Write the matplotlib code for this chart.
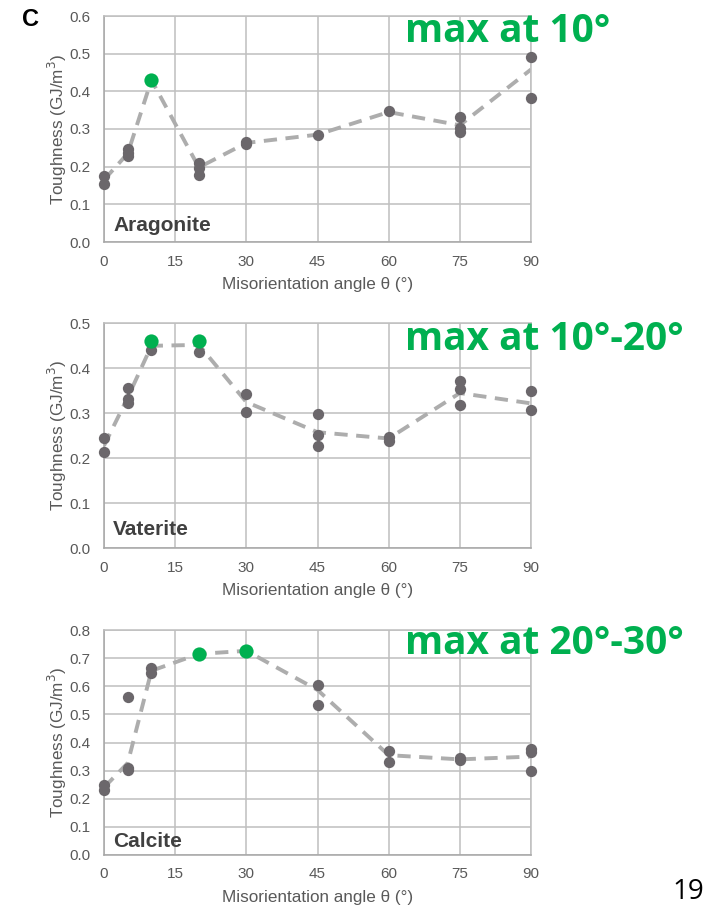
import matplotlib
matplotlib.use("Agg")
import matplotlib.pyplot as plt

plt.rcParams['font.family'] = ['Liberation Sans', 'DejaVu Sans']

angles = [0, 5, 10, 20, 30, 45, 60, 75, 90]
x_ticks = [0, 15, 30, 45, 60, 75, 90]

# Aragonite
arag_pts = [[0.175, 0.155], [0.247, 0.236, 0.227], [], [0.211, 0.196, 0.178],
            [0.265, 0.26], [0.285], [0.347], [0.331, 0.303, 0.292], [0.492, 0.381]]
arag_trend = [0.165, 0.235, 0.43, 0.198, 0.263, 0.285, 0.345, 0.31, 0.458]
arag_max_x = [10]
arag_max_y = [0.43]

# Vaterite
vat_pts = [[0.244, 0.213], [0.357, 0.331, 0.322], [0.441], [0.436],
           [0.343, 0.303], [0.298, 0.252, 0.227], [0.248, 0.239],
           [0.372, 0.354, 0.318], [0.350, 0.307]]
vat_trend = [0.228, 0.335, 0.45, 0.452, 0.325, 0.258, 0.244, 0.345, 0.322]
vat_max_x = [10, 20]
vat_max_y = [0.461, 0.461]

# Calcite
cal_pts = [[0.249, 0.231], [0.563, 0.308, 0.302], [0.664, 0.648], [], [],
           [0.603, 0.533], [0.371, 0.332], [0.344, 0.338], [0.376, 0.367, 0.299]]
cal_trend = [0.24, 0.327, 0.655, 0.715, 0.726, 0.587, 0.355, 0.34, 0.35]
cal_max_x = [20, 30]
cal_max_y = [0.715, 0.726]

panels = [
    dict(name="Aragonite", pts=arag_pts, trend=arag_trend, mx=arag_max_x, my=arag_max_y,
         ymax=0.6, ystep=0.1, note="max at 10°", top=16, bottom=242, note_y=31),
    dict(name="Vaterite", pts=vat_pts, trend=vat_trend, mx=vat_max_x, my=vat_max_y,
         ymax=0.5, ystep=0.1, note="max at 10°-20°", top=323.3, bottom=548.3, note_y=339),
    dict(name="Calcite", pts=cal_pts, trend=cal_trend, mx=cal_max_x, my=cal_max_y,
         ymax=0.8, ystep=0.1, note="max at 20°-30°", top=630, bottom=855, note_y=644),
]

W, H = 721, 911
fig = plt.figure(figsize=(W / 100, H / 100), dpi=100)

grid_c = '#BFBFBF'
text_c = '#595959'
pt_c = '#6B676B'
green = '#00B050'

for p in panels:
    left, right = 104, 531
    ax = fig.add_axes([left / W, (H - p['bottom']) / H, (right - left) / W,
                       (p['bottom'] - p['top']) / H])
    ax.set_xlim(0, 90)
    ax.set_ylim(0, p['ymax'])
    n = int(round(p['ymax'] / p['ystep']))
    yt = [i * p['ystep'] for i in range(n + 1)]
    ax.set_yticks(yt)
    ax.set_yticklabels([f"{v:.1f}" for v in yt])
    ax.set_xticks(x_ticks)
    ax.grid(True, color=grid_c, linewidth=1.1)
    ax.set_axisbelow(True)
    for s in ax.spines.values():
        s.set_color(grid_c)
        s.set_linewidth(1.1)
    ax.spines['left'].set_color('#A6A6A6')
    ax.spines['bottom'].set_color('#A6A6A6')
    ax.tick_params(length=0, labelsize=11, colors=text_c)
    ax.tick_params(axis='x', pad=9)
    ax.tick_params(axis='y', pad=10)
    ax.plot(angles, p['trend'], color='#ADADAD', linewidth=2.8,
            dashes=(3.4, 2.2), zorder=2, solid_capstyle='butt')
    xs, ys = [], []
    for a, vals in zip(angles, p['pts']):
        for v in vals:
            xs.append(a)
            ys.append(v)
    ax.scatter(xs, ys, s=66, color=pt_c, zorder=3, linewidths=0, clip_on=False)
    ax.scatter(p['mx'], p['my'], s=105, color=green, zorder=4, linewidths=0, clip_on=False)
    ax.set_xlabel("Misorientation angle θ (°)", fontsize=12.3, color=text_c, labelpad=6)
    ax.set_ylabel("Toughness (GJ/m$^3$)", fontsize=12.3, color=text_c, labelpad=0)
    ax.text(1.9, p['ystep'] * 0.3, p['name'], fontsize=15, fontweight='bold',
            color='#404040', ha='left', va='baseline', zorder=5)
    fig.text(405 / W, 1 - p['note_y'] / H, p['note'], fontsize=28, fontweight='bold',
             color=green, ha='left', va='center', family=['Open Sans', 'DejaVu Sans'])

fig.text(22 / W, 1 - 19 / H, "C", fontsize=17, fontweight='bold', color='black',
         ha='left', va='center')
fig.text(672 / W, 1 - 892 / H, "19", fontsize=20, color='black', ha='left', va='center',
         family=['Open Sans', 'DejaVu Sans'])

fig.savefig("out.png", dpi=100)
